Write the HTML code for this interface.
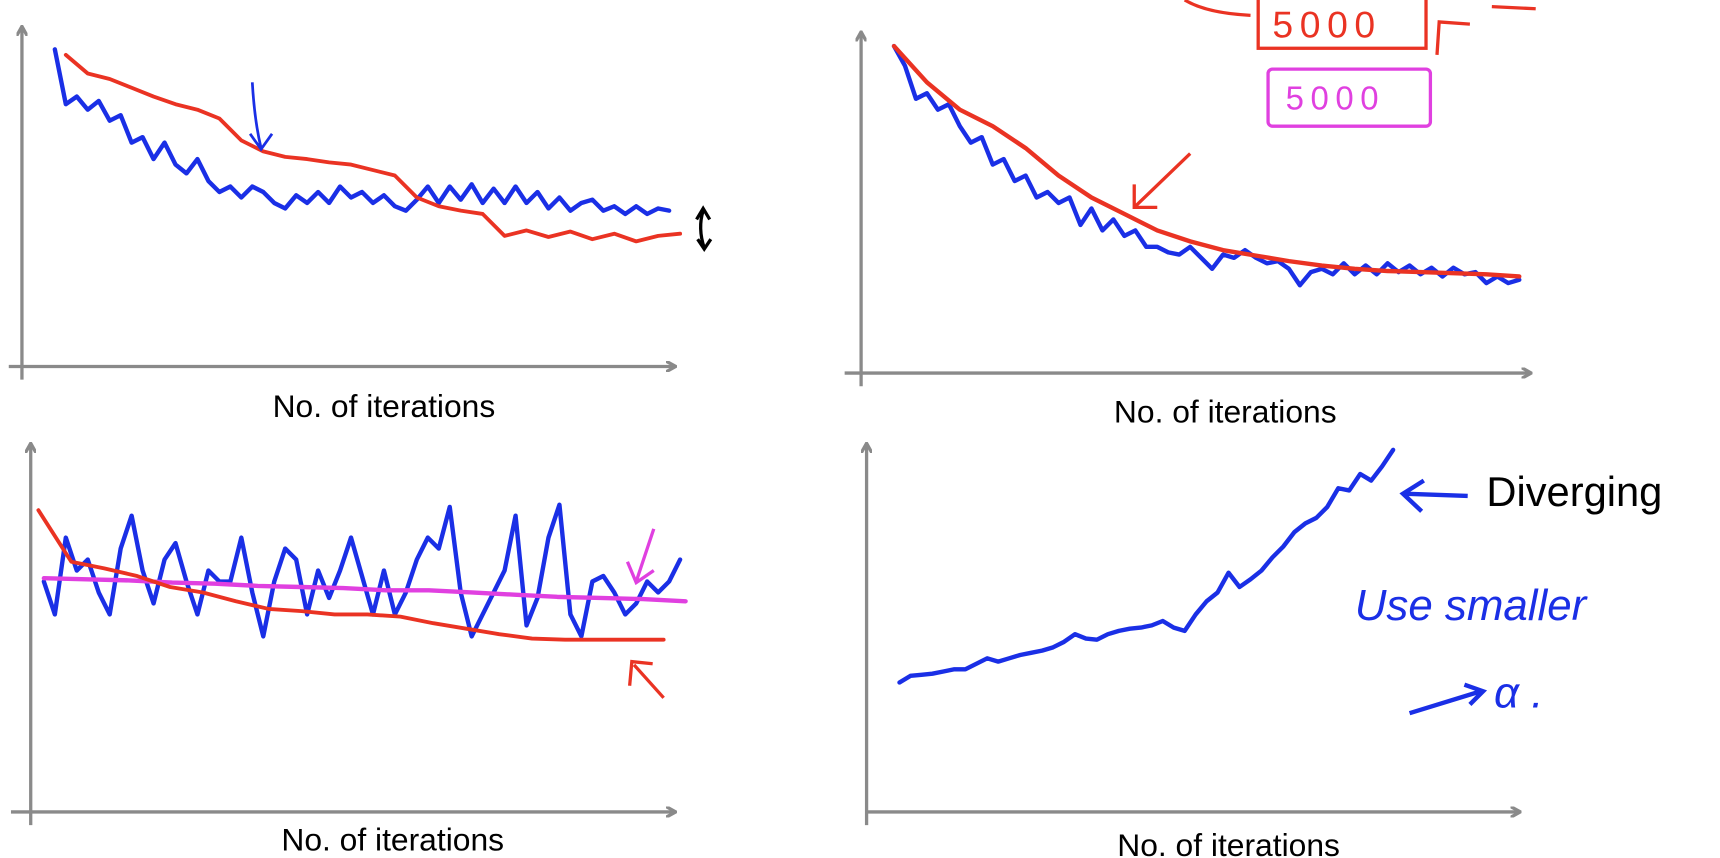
<!DOCTYPE html>
<html><head><meta charset="utf-8"><style>
html,body{margin:0;padding:0;background:#fff;}
svg{display:block;}
text{font-family:"Liberation Sans",sans-serif;}
</style></head><body>
<svg id="chart" width="1720" height="858" viewBox="0 0 1568 782" preserveAspectRatio="none">
<defs>
<marker id="ah" markerWidth="10" markerHeight="10" refX="8" refY="5" orient="auto" markerUnits="userSpaceOnUse"><path d="M0,0 L9,5 L0,10" fill="none" stroke="#8a8a8a" stroke-width="3"/></marker>
</defs>
<g id="axes"></g>
<g id="series"></g>
<g id="notes">
<text x="350" y="380" font-size="29" text-anchor="middle">No. of iterations</text>
<text x="1117" y="385" font-size="29" text-anchor="middle">No. of iterations</text>
<text x="358" y="775" font-size="29" text-anchor="middle">No. of iterations</text>
<text x="1120" y="780" font-size="29" text-anchor="middle">No. of iterations</text>
<text x="1355" y="461" font-size="38">Diverging</text>
<path d="M1338,452 L1280,450 M1298,438 L1279,450 L1296,466" fill="none" stroke="#1a2fe6" stroke-width="4"/>
<text x="1235" y="565" font-size="40" fill="#1a2fe6" font-family="Liberation Serif, serif" font-style="italic">Use  smaller</text>
<path d="M1285,650 L1350,630 M1335,624 L1352,630 L1340,642" fill="none" stroke="#1a2fe6" stroke-width="4"/>
<text x="1362" y="645" font-size="40" fill="#1a2fe6" font-family="Liberation Serif, serif" font-style="italic">α .</text>
<path d="M230,75 Q232,110 238,135 M228,122 L238,136 L248,122" fill="none" stroke="#1a2fe6" stroke-width="2.5"/>
<path d="M641,192 Q636,208 642,226 M635,200 L641,190 L647,200 M636,218 L642,227 L648,218" fill="none" stroke="#000" stroke-width="3"/>
<path d="M1085,140 L1035,188 M1034,168 L1034,189 L1055,189" fill="none" stroke="#ea3323" stroke-width="3"/>
<rect x="1147" y="-6" width="153" height="50" fill="none" stroke="#ea3323" stroke-width="3"/>
<text x="1160" y="34" font-size="34" fill="#ea3323" letter-spacing="6">5000</text>
<path d="M1080,0 Q1100,12 1140,14 M1310,50 L1312,20 L1340,22 M1400,8 L1360,6" fill="none" stroke="#ea3323" stroke-width="3"/>
<rect x="1156" y="63" width="148" height="52" rx="4" fill="none" stroke="#e040e0" stroke-width="3"/>
<text x="1172" y="100" font-size="30" fill="#e040e0" letter-spacing="6">5000</text>
<path d="M596,482 L580,530 M572,512 L580,531 L596,520" fill="none" stroke="#e040e0" stroke-width="3"/>
<path d="M574,625 L576,603 L595,605 M578,606 L605,636" fill="none" stroke="#ea3323" stroke-width="3"/>
</g>
</svg>
<script>
// Panel origins & axis lengths
const panels = [
  {name:'top-left', ox:20, oy:334, xEnd:615, yTop:25, xStartLine:8},
  {name:'top-right', ox:785, oy:340, xEnd:1395, yTop:30, xStartLine:770},
  {name:'bottom-left', ox:28, oy:740, xEnd:615, yTop:405, xStartLine:10},
  {name:'bottom-right', ox:790, oy:740, xEnd:1385, yTop:405, xStartLine:790}
];
// Data (cost values vs iteration)
const tlBlue = [289,239,246,234,242,224,229,204,209,189,204,184,176,189,169,159,164,154,164,159,149,144,156,149,159,149,164,154,159,149,156,146,142,152,164,149,164,152,166,149,162,149,164,149,159,144,154,142,149,152,142,146,139,146,139,144,142];
const tlRed = [284,267,262,254,246,239,234,226,206,196,191,189,186,184,179,174,154,146,142,139,119,124,118,123,116,121,114,119,121];
const trBlue = [298,280,250,255,240,245,225,210,215,190,195,175,180,160,165,155,160,135,150,130,140,125,130,115,115,110,108,115,105,95,108,105,112,105,100,102,95,80,92,95,90,100,90,98,90,100,92,98,90,96,88,96,90,92,82,88,82,85];
const trRed = [298,265,240,225,205,180,160,145,130,120,112,107,102,98,95,93,92,91,90,88];
const blBlue = [210,180,250,220,230,200,180,240,270,220,190,230,245,210,180,220,210,210,250,200,160,210,240,230,180,220,195,220,250,215,180,220,180,200,230,250,240,278,200,160,180,200,220,270,170,195,250,280,180,160,210,215,200,180,190,210,200,210,230];
const blPink = [213,212,211,209,208,206,205,204,202,202,200,198,196,195,194,192];
const blRed = [275,228,222,215,205,200,192,185,183,180,180,178,172,167,162,158,157,157,157,157];
const brBlue = [118,124,125,126,128,130,130,135,140,137,140,143,145,147,150,155,162,158,157,162,165,167,168,170,174,168,165,180,192,200,218,205,212,220,232,242,255,263,268,278,295,293,308,302,315,330];

const NS='http://www.w3.org/2000/svg';
const axes=document.getElementById('axes');
const ser=document.getElementById('series');
function xScale(p,t){return p.ox+t;}
function yScale(p,v){return p.oy-v;}
panels.forEach(p=>{
  const ya=document.createElementNS(NS,'line');
  
  
  ya.setAttribute('x1',p.ox);ya.setAttribute('y1',p.oy+12);ya.setAttribute('x2',p.ox);ya.setAttribute('y2',p.yTop);
  ya.setAttribute('stroke','#8a8a8a');ya.setAttribute('stroke-width','3');ya.setAttribute('marker-end','url(#ah)');
  axes.appendChild(ya);
  const xa=document.createElementNS(NS,'line');
  
  
  xa.setAttribute('x1',p.xStartLine);xa.setAttribute('y1',p.oy);xa.setAttribute('x2',p.xEnd);xa.setAttribute('y2',p.oy);
  xa.setAttribute('stroke','#8a8a8a');xa.setAttribute('stroke-width','3');xa.setAttribute('marker-end','url(#ah)');
  axes.appendChild(xa);
});
function draw(p,vals,t0,step,color,w,name){
  const pts=vals.map((v,i)=>xScale(p,t0+i*step).toFixed(1)+','+yScale(p,v).toFixed(1)).join(' ');
  const pl=document.createElementNS(NS,'polyline');
  
  
  pl.setAttribute('points',pts);pl.setAttribute('fill','none');pl.setAttribute('stroke',color);
  pl.setAttribute('stroke-width',w);pl.setAttribute('stroke-linejoin','round');pl.setAttribute('stroke-linecap','round');
  ser.appendChild(pl);
}
const B='#1a2fe6',R='#ea3323',P='#e040e0';
draw(panels[0],tlBlue,30,10,B,4,'top-left-blue-curve');
draw(panels[0],tlRed,40,20,R,3.5,'top-left-red-curve');
draw(panels[1],trBlue,30,10,B,4,'top-right-blue-curve');
draw(panels[1],trRed,30,30,R,4,'top-right-red-curve');
draw(panels[2],blBlue,12,10,B,4,'bottom-left-blue-curve');
draw(panels[2],blPink,12,39,P,4,'bottom-left-pink-curve');
draw(panels[2],blRed,7,30,R,3.5,'bottom-left-red-curve');
draw(panels[3],brBlue,30,10,B,4,'bottom-right-blue-curve');
</script>
</body></html>
